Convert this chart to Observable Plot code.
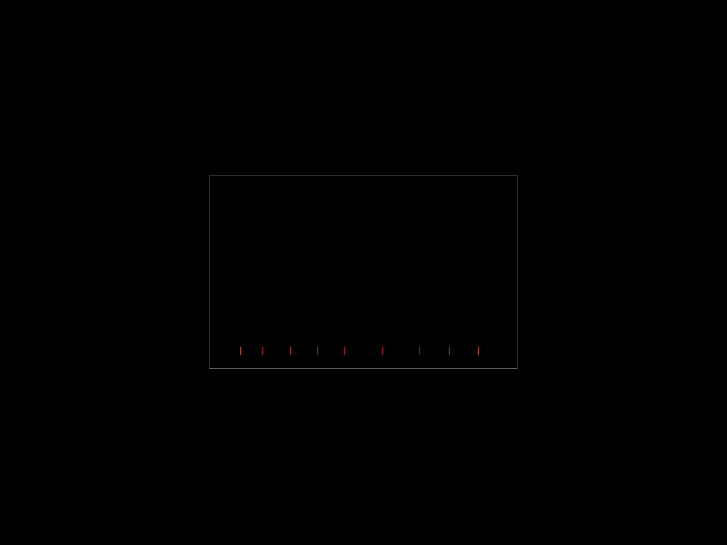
<!DOCTYPE html>
<html>
<head>
<meta charset="utf-8">
<script src="https://cdn.jsdelivr.net/npm/d3@7"></script>
<script src="https://cdn.jsdelivr.net/npm/@observablehq/plot@0.6"></script>
<style>
  html, body { margin: 0; padding: 0; background: #000; }
  #chart svg { display: block; }
</style>
</head>
<body>
<div id="chart"></div>
<script>
// Data
const positions = [10.1, 17.2, 26.3, 35.1, 43.8, 56.2, 68.2, 77.9, 87.3];
const groups = ["a", "b", "c", "b", "b", "b", "d", "e", "f"];
const groupNames = ["a", "b", "c", "d", "e", "f"];
const groupColors = ["#a0541a", "#9a1822", "#903040", "#7a1a1c", "#b01818", "#a84428"];

const data = positions.map((x, i) => ({x, g: groups[i]}));

const chart = Plot.plot({
  width: 727,
  height: 545,
  marginLeft: 209,
  marginRight: 210,
  marginTop: 175,
  marginBottom: 177,
  style: {background: "#000", color: "#777"},
  x: {domain: [0, 100], axis: null},
  y: {domain: [0, 1], axis: null},
  color: {type: "ordinal", domain: groupNames, range: groupColors},
  marks: [
    Plot.frame({stroke: "#2e2e2e"}),
    Plot.ruleY([0], {stroke: "#5e5e5e"}),
    Plot.ruleX(data, {x: "x", y1: 0.068, y2: 0.11, stroke: "g", strokeWidth: 1.1})
  ]
});
document.getElementById("chart").append(chart);
</script>
</body>
</html>
